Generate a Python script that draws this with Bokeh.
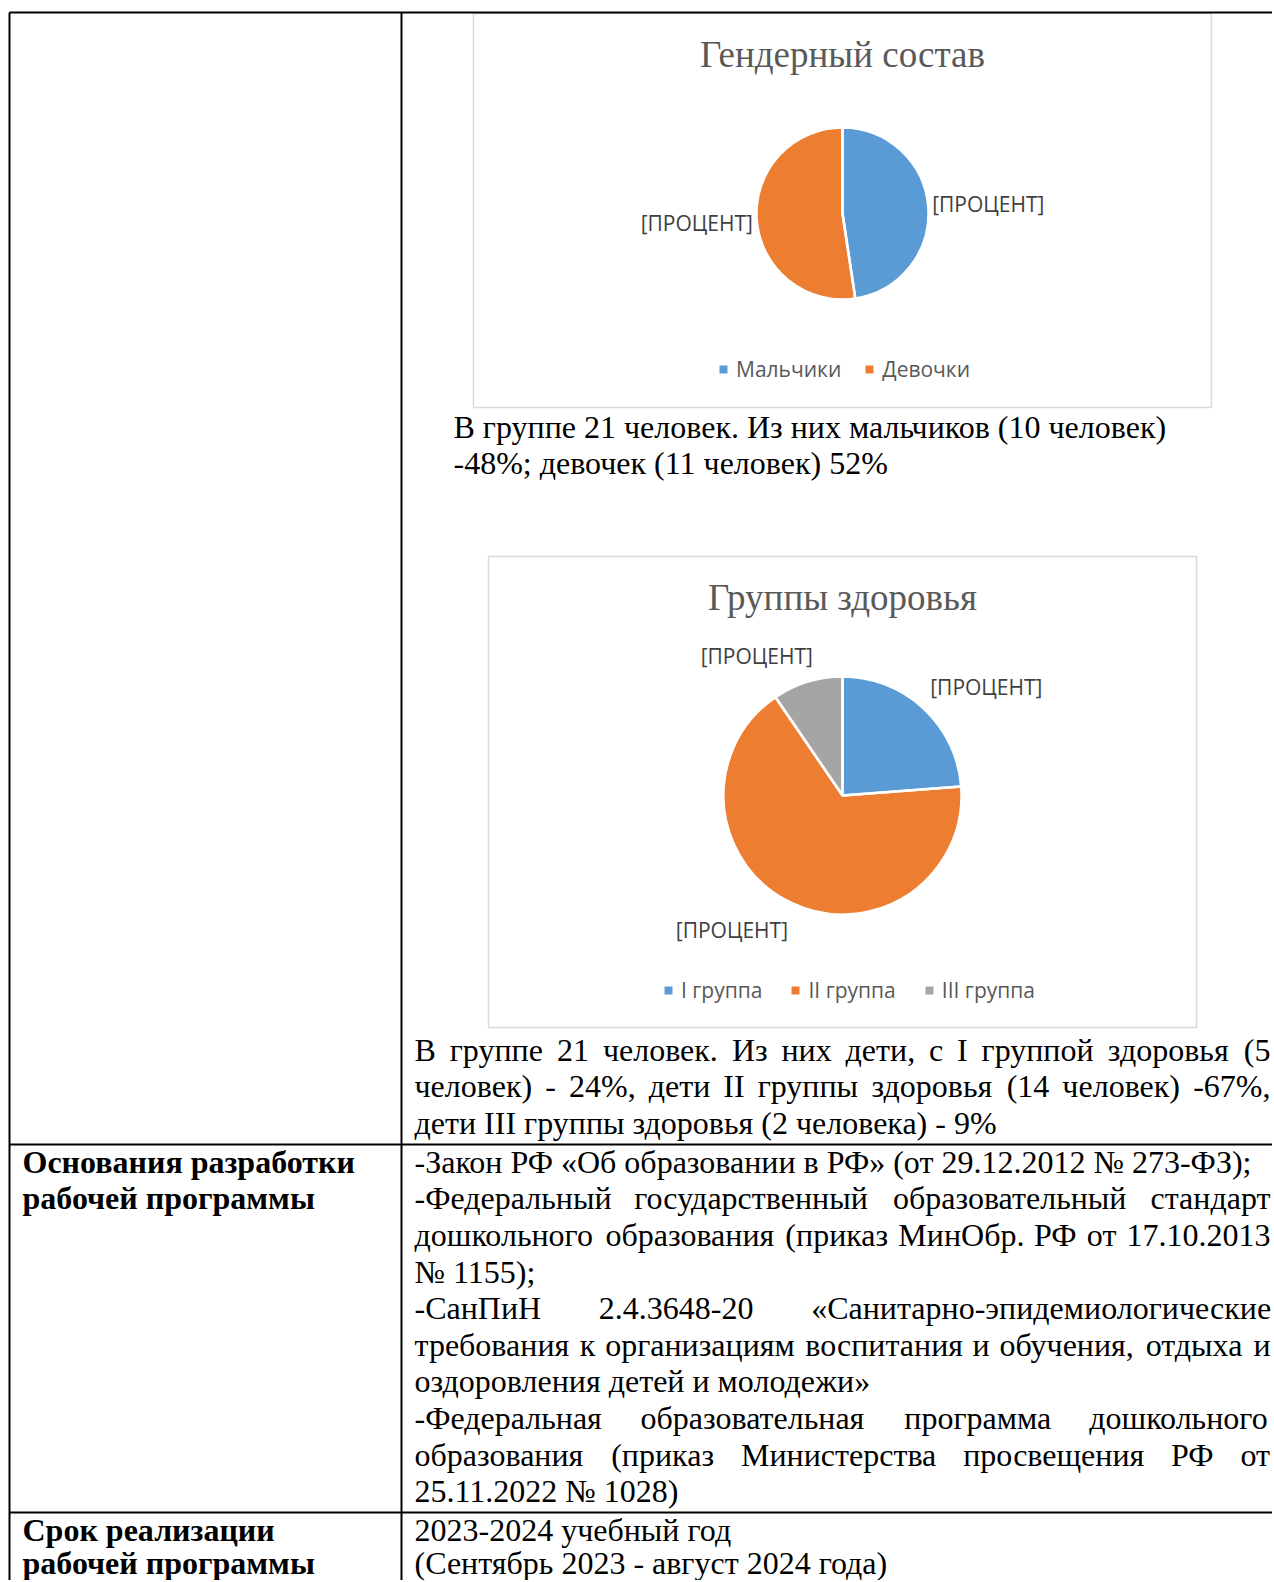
import numpy as np
from bokeh.plotting import figure
from bokeh.models import ColumnDataSource, Range1d, Legend, LegendItem
from bokeh.embed import file_html
from bokeh.resources import INLINE
from bokeh.core.properties import value

# ---------------- data ----------------
gender_title = "Гендерный состав"
gender_labels = ["Мальчики", "Девочки"]
gender_counts = [10, 11]

health_title = "Группы здоровья"
health_labels = ["I группа", "II группа", "III группа"]
health_counts = [5, 14, 2]

data_label_text = "[ПРОЦЕНТ]"

gender_note = [
    "В группе 21 человек. Из них мальчиков (10 человек)",
    "-48%; девочек (11 человек) 52%",
]
health_note = [
    ("В группе 21 человек. Из них дети, с I группой здоровья (5", True),
    ("человек) - 24%, дети II группы здоровья (14 человек) -67%,", True),
    ("дети III группы здоровья (2 человека) - 9%", False),
]
basis_head = ["Основания разработки", "рабочей программы"]
basis_text = [
    ("-Закон РФ «Об образовании в РФ» (от 29.12.2012 № 273-ФЗ);", False),
    ("-Федеральный государственный образовательный стандарт", True),
    ("дошкольного образования (приказ МинОбр. РФ от 17.10.2013", True),
    ("№ 1155);", False),
    ("-СанПиН 2.4.3648-20 «Санитарно-эпидемиологические", True),
    ("требования к организациям воспитания и обучения, отдыха и", True),
    ("оздоровления детей и молодежи»", False),
    ("-Федеральная образовательная программа дошкольного", True),
    ("образования (приказ Министерства просвещения РФ от", True),
    ("25.11.2022 № 1028)", False),
]
term_head = ["Срок реализации", "рабочей программы"]
term_text = [
    ("2023-2024 учебный год", False),
    ("(Сентябрь 2023 - август 2024 года)", False),
]

# ---------------- styles ----------------
gender_colors = ["#5B9BD5", "#ED7D31"]
health_colors = ["#5B9BD5", "#ED7D31", "#A5A5A5"]
SERIF = "Liberation Serif"
SANS = "Open Sans"
FS = 32

# approximate Times/Liberation Serif advance widths (em) for justification
CW = {
    'а': .444, 'б': .509, 'в': .472, 'г': .410, 'д': .509, 'е': .444, 'ё': .444, 'ж': .691,
    'з': .395, 'и': .535, 'й': .535, 'к': .486, 'л': .499, 'м': .633, 'н': .535, 'о': .500,
    'п': .535, 'р': .500, 'с': .444, 'т': .437, 'у': .500, 'ф': .648, 'х': .500, 'ц': .535,
    'ч': .503, 'ш': .770, 'щ': .770, 'ъ': .517, 'ы': .672, 'ь': .456, 'э': .434, 'ю': .747,
    'я': .485,
    'А': .722, 'Б': .574, 'В': .667, 'Г': .578, 'Д': .682, 'Е': .611, 'Ж': .896, 'З': .501,
    'И': .722, 'Й': .722, 'К': .667, 'Л': .678, 'М': .889, 'Н': .722, 'О': .722, 'П': .722,
    'Р': .556, 'С': .667, 'Т': .611, 'У': .715, 'Ф': .790, 'Х': .722, 'Ц': .722, 'Ч': .665,
    'Ш': 1.0, 'Щ': 1.0, 'Ъ': .719, 'Ы': .905, 'Ь': .574, 'Э': .660, 'Ю': 1.0, 'Я': .667,
    'I': .333, ' ': .25, '.': .25, ',': .25, ';': .278, ':': .278, '-': .333, '(': .333,
    ')': .333, '%': .833, '«': .5, '»': .5, '№': .955,
}


def tw(s):
    return sum(CW.get(ch, 0.5) for ch in s) * FS


W, H = 1272, 1580
p = figure(width=W, height=H, x_range=Range1d(0, W), y_range=Range1d(0, H),
           output_backend="svg", toolbar_location=None, title=None,
           x_axis_location=None, y_axis_location=None, min_border=0)
p.grid.visible = False
p.outline_line_color = None
p.background_fill_color = "white"
p.border_fill_color = "white"


def X(px):
    return px


def Y(py):
    return H - py


# chart frames
p.quad(left=[X(473), X(488)], right=[X(1211), X(1196)], top=[Y(13), Y(556)],
       bottom=[Y(407), Y(1027)], fill_color="white", line_color="#D9D9D9", line_width=1.5)

# table rules
p.segment(x0=[X(9), X(9), X(401), X(9), X(9)],
          y0=[Y(12), Y(12), Y(12), Y(1144), Y(1512)],
          x1=[X(1290), X(9), X(401), X(1290), X(1290)],
          y1=[Y(12), Y(1600), Y(1600), Y(1144), Y(1512)],
          line_color="black", line_width=2)


def pie(title, labels, counts, colors, cx, cy, r, gap, title_base, leg_x, leg_y, leg_spacing):
    vals = np.array(counts, dtype=float)
    frac = vals / vals.sum()
    cum = np.concatenate([[0.0], np.cumsum(frac)])
    start = np.pi / 2 - 2 * np.pi * cum[:-1]
    end = np.pi / 2 - 2 * np.pi * cum[1:]
    src = ColumnDataSource(dict(label=labels, value=counts, start=start, end=end, color=colors))
    rf = p.wedge(x=X(cx), y=Y(cy), radius=r, start_angle="start", end_angle="end",
                 direction="clock", fill_color="color", line_color=None, source=src)
    p.wedge(x=X(cx), y=Y(cy), radius=r, start_angle="start", end_angle="end",
            direction="clock", fill_color=None, line_color="white", line_width=2.5, source=src)
    mid = (start + end) / 2
    R = r + gap
    hw, hh, k = 52, 10, 3
    lx = X(cx) + R * np.cos(mid) + hw * np.clip(k * np.cos(mid), -1, 1)
    ly = Y(cy) + R * np.sin(mid) + hh * np.clip(k * np.sin(mid), -1, 1) - 3 * (np.sin(mid) < -0.5)
    p.text(x=list(lx), y=list(ly), text=[data_label_text] * len(labels),
           text_align="center", text_baseline="middle", text_font=value(SANS),
           text_font_size="21px", text_color="#404040")
    p.text(x=[X(cx)], y=[Y(title_base)], text=[title], text_align="center",
           text_baseline="alphabetic", text_font=value(SERIF), text_font_size="37px",
           text_color="#595959")
    leg = Legend(items=[LegendItem(label=lab, renderers=[rf], index=i) for i, lab in enumerate(labels)],
                 orientation="horizontal", location=(X(leg_x), Y(leg_y) - 13),
                 glyph_width=10, glyph_height=10, label_standoff=8, spacing=leg_spacing,
                 padding=0, margin=0, border_line_color=None, background_fill_alpha=0,
                 label_text_font=SANS, label_text_font_size="21px", label_text_color="#595959",
                 label_height=20)
    p.add_layout(leg)


pie(gender_title, gender_labels, gender_counts, gender_colors, 842, 213, 86, 8, 54, 718, 370, 23)
pie(health_title, health_labels, health_counts, health_colors, 842, 795, 119, 16, 597, 663, 991, 28)


def add_lines(lines, x_left, x_right, first_base, step, style="normal"):
    xs, ys, ts = [], [], []
    for i, (s, just) in enumerate(lines):
        yb = first_base + i * step
        if just:
            words = s.split()
            widths = [tw(w) for w in words]
            g = (x_right - x_left - sum(widths)) / (len(words) - 1)
            x = x_left
            for j, (wd_s, wd) in enumerate(zip(words, widths)):
                if j == len(words) - 1:
                    x = x_right - wd
                xs.append(X(x)); ys.append(Y(yb)); ts.append(wd_s)
                x += wd + g
        else:
            xs.append(X(x_left)); ys.append(Y(yb)); ts.append(s)
    p.text(x=xs, y=ys, text=ts, text_align="left", text_baseline="alphabetic",
           text_font=value(SERIF), text_font_size=f"{FS}px", text_font_style=style,
           text_color="black")


add_lines([(s, False) for s in gender_note], 453, 1270, 426, 36.7)
add_lines(health_note, 414, 1270, 1049.5, 36.4)
add_lines(basis_text, 414, 1270, 1161.3, 36.6)
add_lines(term_text, 414, 1270, 1529.5, 32.5)
add_lines([(s, False) for s in basis_head], 22, 400, 1161.3, 36.6, "bold")
add_lines([(s, False) for s in term_head], 22, 400, 1529.5, 32.5, "bold")

open("out.html", "w").write(file_html(p, INLINE))
